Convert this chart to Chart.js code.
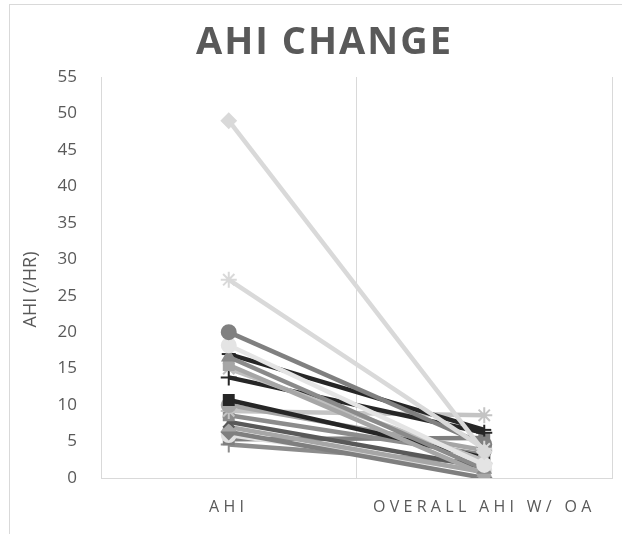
<!DOCTYPE html>
<html>
<head>
<meta charset="utf-8">
<script src="https://cdn.jsdelivr.net/npm/chart.js@4.4.0/dist/chart.umd.min.js"></script>
<style>
  html, body { margin: 0; padding: 0; background: #fff; }
</style>
</head>
<body>
<canvas id="c" width="622" height="534"></canvas>
<script>
// categories on the x axis
const categories = ['AHI', 'OVERALL AHI W/ OA'];

// one entry per patient: AHI before, AHI with oral appliance
const ahiBefore = [49.0, 27.2, 20.0, 18.2, 16.6, 17.0, 15.5, 15.0, 13.8, 10.7, 10.0, 9.2, 8.6, 7.7, 7.0, 6.3, 5.9, 5.3, 4.6];
const ahiAfter  = [ 3.6,  4.0,  4.6,  1.8,  1.2,  6.6,  0.5,  2.4,  6.2,  2.8,  3.8, 8.6, 3.2, 1.5, 0.8, 0.0, 1.0, 5.5, 2.0];

const lineColors = ['#d9d9d9', '#d9d9d9', '#808080', '#e4e4e4', '#8a8a8a', '#262626', '#a6a6a6', '#bfbfbf', '#262626', '#262626',
                    '#a6a6a6', '#c4c4c4', '#8c8c8c', '#595959', '#a6a6a6', '#7f7f7f', '#e0e0e0', '#7f7f7f', '#8c8c8c'];
const markers = ['rectRot', 'star', 'circle', 'circle', 'triangle', 'line', 'rect', 'crossRot', 'cross', 'rect',
                 'circle', 'star', 'rect', 'crossRot', 'triangle', 'rectRot', 'circle', 'rect', 'cross'];

const datasets = ahiBefore.map((v, i) => ({
  label: 'Patient ' + (i + 1),
  data: [v, ahiAfter[i]],
  borderColor: lineColors[i],
  backgroundColor: lineColors[i],
  borderWidth: 4.5,
  pointStyle: markers[i],
  pointRadius: (markers[i] === 'star' || markers[i] === 'cross' || markers[i] === 'crossRot') ? 8 : 7,
  pointBorderWidth: 2,
  pointBackgroundColor: lineColors[i],
  pointBorderColor: lineColors[i],
  tension: 0
}));

// light frame around the chart, like the spreadsheet chart box
const frame = {
  id: 'frame',
  beforeDraw(chart) {
    const ctx = chart.ctx;
    ctx.save();
    ctx.strokeStyle = '#d9d9d9';
    ctx.lineWidth = 1;
    ctx.strokeRect(9.5, 4.5, 700, 600);
    ctx.restore();
  }
};

// spaced-out letters for the title and the category labels,
// title centred on the whole frame, y title nudged down a little
const spacing = {
  id: 'spacing',
  beforeDraw(chart) {
    const ctx = chart.ctx;
    const tb = chart.titleBlock;
    if (tb && !tb._spaced) {
      const orig = tb.draw.bind(tb);
      tb.draw = function (area) { ctx.save(); ctx.translate(12, 0); ctx.letterSpacing = '2px'; orig(area); ctx.restore(); };
      tb._spaced = true;
    }
    const x = chart.scales.x;
    if (x && !x._spaced) {
      const origLabels = x.drawLabels.bind(x);
      x.drawLabels = function (area) { ctx.save(); ctx.letterSpacing = '4.3px'; origLabels(area); ctx.restore(); };
      x._spaced = true;
    }
    const y = chart.scales.y;
    if (y && !y._moved) {
      const origTitle = y.drawTitle.bind(y);
      y.drawTitle = function () { ctx.save(); ctx.translate(0, 12); origTitle(); ctx.restore(); };
      y._moved = true;
    }
  }
};

new Chart(document.getElementById('c'), {
  type: 'line',
  data: { labels: categories, datasets: datasets },
  plugins: [frame, spacing],
  options: {
    responsive: false,
    animation: false,
    layout: { padding: { left: 10, right: 7, top: 0, bottom: 0 } },
    plugins: {
      legend: { display: false },
      tooltip: { enabled: false },
      title: {
        display: true,
        text: 'AHI CHANGE',
        color: '#595959',
        font: { family: 'Open Sans', size: 38, weight: 'bold', lineHeight: 1.2 },
        padding: { top: 20, bottom: 11.4 }
      }
    },
    scales: {
      x: {
        offset: true,
        grid: { display: true, offset: true, drawTicks: false, color: '#d9d9d9', lineWidth: 1 },
        border: { display: true, color: '#d9d9d9', width: 1 },
        ticks: { color: '#595959', font: { family: 'Open Sans', size: 16 }, padding: 20, maxRotation: 0 },
        afterFit: (scale) => { scale.height = 56; }
      },
      y: {
        min: 0,
        max: 55,
        grid: { display: false, drawTicks: false },
        border: { display: false },
        ticks: { stepSize: 5, color: '#595959', font: { family: 'Open Sans', size: 17 }, padding: 24 },
        title: {
          display: true,
          text: 'AHI (/HR)',
          color: '#595959',
          font: { family: 'Open Sans', size: 18, lineHeight: 1.2 },
          padding: { top: 10, bottom: 0 }
        },
        afterFit: (scale) => { scale.width = 91; }
      }
    }
  }
});
</script>
</body>
</html>
